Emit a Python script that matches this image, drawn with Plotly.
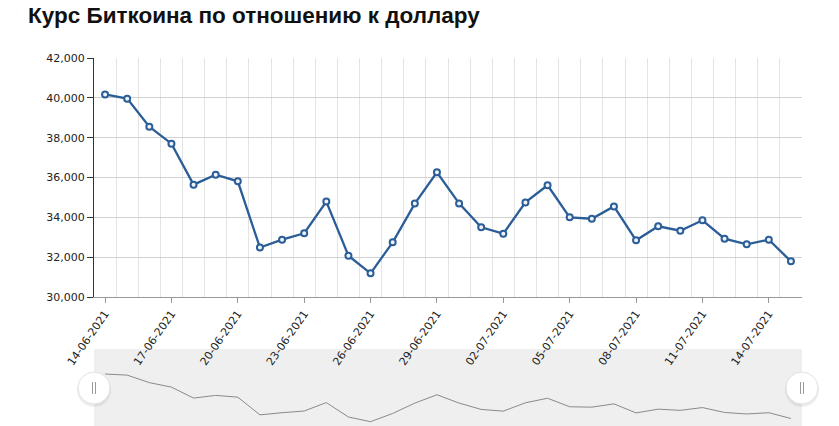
import plotly.graph_objects as go
import pandas as pd

# ---- data ----
dates = ["14-06-2021", "15-06-2021", "16-06-2021", "17-06-2021", "18-06-2021", "19-06-2021",
         "20-06-2021", "21-06-2021", "22-06-2021", "23-06-2021", "24-06-2021", "25-06-2021",
         "26-06-2021", "27-06-2021", "28-06-2021", "29-06-2021", "30-06-2021", "01-07-2021",
         "02-07-2021", "03-07-2021", "04-07-2021", "05-07-2021", "06-07-2021", "07-07-2021",
         "08-07-2021", "09-07-2021", "10-07-2021", "11-07-2021", "12-07-2021", "13-07-2021",
         "14-07-2021", "15-07-2021"]
prices = [40170, 39960, 38550, 37700, 35640, 36140, 35810, 32480, 32880, 33200,
          34790, 32075, 31190, 32745, 34690, 36260, 34700, 33500, 33180, 34750,
          35610, 34000, 33930, 34550, 32845, 33550, 33330, 33850, 32930, 32645,
          32880, 31790]
y_ticks = [30000, 32000, 34000, 36000, 38000, 40000, 42000]
title_text = "Курс Биткоина по отношению к доллару"

x = pd.to_datetime(dates, format="%d-%m-%Y")

W, H = 839, 426
ML, MR, MT, MB = 94, 37, 58, 0
PH = H - MT - MB

def py(pix):  # pixel row -> paper fraction
    return (H - MB - pix) / PH

blue = "#2b5d97"
xrange_ = ["2021-06-13 12:00", "2021-07-15 12:00"]

fig = go.Figure()
fig.add_trace(go.Scatter(
    x=x, y=prices, mode="lines+markers",
    line=dict(color=blue, width=2.3),
    marker=dict(symbol="circle", size=6, color="#eef3f9", line=dict(color=blue, width=2)),
    xaxis="x", yaxis="y", showlegend=False, hoverinfo="x+y"))
fig.add_trace(go.Scatter(
    x=x, y=prices, mode="lines",
    line=dict(color="#8a8a8a", width=1),
    xaxis="x2", yaxis="y2", showlegend=False, hoverinfo="skip"))

fig.update_layout(
    width=W, height=H,
    margin=dict(l=ML, r=MR, t=MT, b=MB, pad=0, autoexpand=False),
    paper_bgcolor="white", plot_bgcolor="rgba(0,0,0,0)",
    font=dict(family="DejaVu Sans", size=11, color="#222"),
    title=dict(text="<b>" + title_text + "</b>", x=28 / W, xanchor="left", xref="container",
               y=1 - 15 / H, yanchor="middle", yref="container",
               font=dict(family="Liberation Sans", size=22.5, color="#111")),
    xaxis=dict(type="date", range=xrange_, domain=[0, 1], anchor="y", automargin=False,
               tickmode="linear", tick0="2021-06-14", dtick=3 * 86400000,
               tickformat="%d-%m-%Y", tickangle=-55,
               ticks="outside", ticklen=5, tickcolor="#999",
               showline=True, linecolor="#999", linewidth=1,
               showgrid=False, zeroline=False,
               minor=dict(tick0="2021-06-13 12:00", dtick=86400000, showgrid=True,
                          gridcolor="#e3e3e3", gridwidth=1, ticks="")),
    yaxis=dict(range=[30000, 42000], domain=[py(297), py(58)], anchor="x", automargin=False,
               tickvals=y_ticks, tickformat=",", ticks="outside", ticklen=6, tickcolor="#333",
               showline=True, linecolor="#333", linewidth=1,
               showgrid=True, gridcolor="#d2d2d2", gridwidth=1, zeroline=False),
    xaxis2=dict(type="date", range=xrange_, domain=[0, 1], anchor="y2", automargin=False,
                showticklabels=False, showgrid=False, zeroline=False, showline=False, ticks=""),
    yaxis2=dict(range=[30380, 44880], domain=[0, py(349)], anchor="x2", automargin=False,
                showticklabels=False, showgrid=False, zeroline=False, showline=False, ticks=""),
)

shapes = [dict(type="rect", xref="x2 domain", yref="y2 domain", x0=0, x1=1, y0=0, y1=1,
               fillcolor="#efefef", line=dict(width=0), layer="below")]
hy = py(388)
for hx in (0, 1):
    shapes.append(dict(type="circle", xref="x2 domain", yref="paper",
                       xsizemode="pixel", ysizemode="pixel", xanchor=hx, yanchor=hy - 2 / PH,
                       x0=-17, x1=17, y0=-17, y1=17,
                       fillcolor="rgba(0,0,0,0.07)", line=dict(width=0)))
    shapes.append(dict(type="circle", xref="x2 domain", yref="paper",
                       xsizemode="pixel", ysizemode="pixel", xanchor=hx, yanchor=hy,
                       x0=-16, x1=16, y0=-16, y1=16,
                       fillcolor="white", line=dict(color="#e2e2e2", width=1)))
    for dx in (-1.5, 1.5):
        shapes.append(dict(type="line", xref="x2 domain", yref="paper",
                           xsizemode="pixel", ysizemode="pixel", xanchor=hx, yanchor=hy,
                           x0=dx, x1=dx, y0=-6, y1=6,
                           line=dict(color="#9a9a9a", width=1)))
fig.update_layout(shapes=shapes)

fig.write_html("out.html", config={"displayModeBar": False},
               post_script="document.body.style.margin='0px';")
